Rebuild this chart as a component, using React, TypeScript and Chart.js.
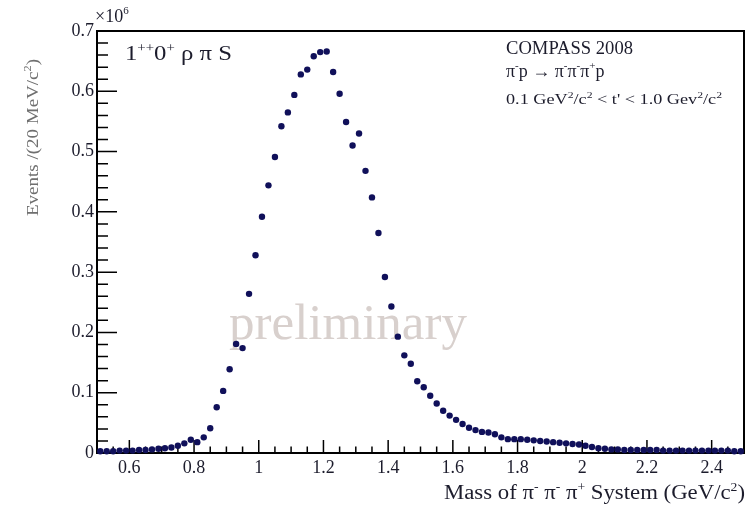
import { useEffect, useRef } from "react";
import { Chart, registerables } from "chart.js";

Chart.register(...registerables);

// Bin centres of the 20 MeV/c² mass bins (GeV/c²)
const massBins = [
  0.51, 0.53, 0.55, 0.57, 0.59, 0.61, 0.63, 0.65, 0.67, 0.69,
  0.71, 0.73, 0.75, 0.77, 0.79, 0.81, 0.83, 0.85, 0.87, 0.89,
  0.91, 0.93, 0.95, 0.97, 0.99, 1.01, 1.03, 1.05, 1.07, 1.09,
  1.11, 1.13, 1.15, 1.17, 1.19, 1.21, 1.23, 1.25, 1.27, 1.29,
  1.31, 1.33, 1.35, 1.37, 1.39, 1.41, 1.43, 1.45, 1.47, 1.49,
  1.51, 1.53, 1.55, 1.57, 1.59, 1.61, 1.63, 1.65, 1.67, 1.69,
  1.71, 1.73, 1.75, 1.77, 1.79, 1.81, 1.83, 1.85, 1.87, 1.89,
  1.91, 1.93, 1.95, 1.97, 1.99, 2.01, 2.03, 2.05, 2.07, 2.09,
  2.11, 2.13, 2.15, 2.17, 2.19, 2.21, 2.23, 2.25, 2.27, 2.29,
  2.31, 2.33, 2.35, 2.37, 2.39, 2.41, 2.43, 2.45, 2.47, 2.49,
];

// Events per bin (×10⁶)
const events = [
  0.003, 0.003, 0.003, 0.004, 0.004, 0.004, 0.005, 0.005, 0.006, 0.007,
  0.008, 0.009, 0.012, 0.016, 0.022, 0.018, 0.026, 0.041, 0.076, 0.103,
  0.139, 0.181, 0.174, 0.264, 0.328, 0.392, 0.444, 0.491, 0.542, 0.565,
  0.594, 0.628, 0.636, 0.658, 0.665, 0.666, 0.632, 0.596, 0.549, 0.510,
  0.530, 0.468, 0.424, 0.365, 0.292, 0.243, 0.193, 0.162, 0.148, 0.119,
  0.109, 0.095, 0.082, 0.070, 0.062, 0.055, 0.048, 0.042, 0.038, 0.035,
  0.034, 0.031, 0.026, 0.023, 0.023, 0.023, 0.022, 0.021, 0.020, 0.019,
  0.018, 0.017, 0.016, 0.015, 0.014, 0.012, 0.010, 0.008, 0.007, 0.006,
  0.006, 0.005, 0.005, 0.005, 0.005, 0.005, 0.005, 0.004, 0.004, 0.004,
  0.004, 0.004, 0.004, 0.004, 0.004, 0.004, 0.004, 0.004, 0.003, 0.003,
];

const xTickValues = [0.6, 0.8, 1, 1.2, 1.4, 1.6, 1.8, 2, 2.2, 2.4];
const yTickValues = [0, 0.1, 0.2, 0.3, 0.4, 0.5, 0.6, 0.7];
const X_MIN = 0.5;
const X_MAX = 2.5;
const Y_MIN = 0;
const Y_MAX = 0.7;
const X_MINOR_STEP = 0.05;
const Y_MINOR_STEP = 0.02;

const SERIF = "'Liberation Serif', 'DejaVu Serif', serif";

// segments: [text, isSuperscript]
type Seg = [string, boolean];

function drawRich(
  ctx: CanvasRenderingContext2D,
  segs: Seg[],
  x: number,
  y: number,
  size: number,
  width?: number,
  align: "left" | "right" = "left"
) {
  const supSize = Math.round(size * 0.62);
  const widths = segs.map(([t, sup]) => {
    ctx.font = `${sup ? supSize : size}px ${SERIF}`;
    return ctx.measureText(t).width;
  });
  const total = widths.reduce((s, w) => s + w, 0);
  const sx = width ? width / total : 1;
  const drawnW = total * sx;
  ctx.save();
  ctx.textAlign = "left";
  ctx.translate(align === "left" ? x : x - drawnW, y);
  ctx.scale(sx, 1);
  let cx = 0;
  segs.forEach(([t, sup], i) => {
    ctx.font = `${sup ? supSize : size}px ${SERIF}`;
    ctx.fillText(t, cx, sup ? -size * 0.42 : 0);
    cx += widths[i];
  });
  ctx.restore();
}

const decorPlugin = {
  id: "rootDecor",
  beforeDatasetsDraw(chart: any) {
    const { ctx, chartArea: a, scales } = chart;
    const xs = scales.x;
    const ys = scales.y;
    ctx.save();
    ctx.textBaseline = "alphabetic";
    // watermark
    ctx.font = `51px ${SERIF}`;
    ctx.fillStyle = "#d8d0cd";
    ctx.textAlign = "center";
    ctx.fillText("preliminary", 348, 339);

    // frame
    ctx.strokeStyle = "#000";
    ctx.lineWidth = 2;
    ctx.strokeRect(a.left, a.top, a.right - a.left, a.bottom - a.top);

    // ticks (inward)
    ctx.lineWidth = 1.5;
    ctx.beginPath();
    const nx = Math.round((X_MAX - X_MIN) / X_MINOR_STEP);
    for (let i = 1; i < nx; i++) {
      const v = X_MIN + i * X_MINOR_STEP;
      const px = xs.getPixelForValue(v);
      const major = xTickValues.some((t) => Math.abs(t - v) < 1e-6);
      const len = major ? 13 : 6.5;
      ctx.moveTo(px, a.bottom);
      ctx.lineTo(px, a.bottom - len);
    }
    const ny = Math.round((Y_MAX - Y_MIN) / Y_MINOR_STEP);
    for (let i = 1; i < ny; i++) {
      const v = Y_MIN + i * Y_MINOR_STEP;
      const py = ys.getPixelForValue(v);
      const major = yTickValues.some((t) => Math.abs(t - v) < 1e-6);
      const len = major ? 20 : 11;
      ctx.moveTo(a.left, py);
      ctx.lineTo(a.left + len, py);
    }
    ctx.moveTo(a.left, ys.getPixelForValue(Y_MAX));
    ctx.lineTo(a.left + 20, ys.getPixelForValue(Y_MAX));
    ctx.stroke();

    // texts
    ctx.fillStyle = "#1c1c2c";
    drawRich(ctx, [["×10", false], ["6", true]], a.left - 2, 22, 18);

    drawRich(ctx, [["1", false], ["++", true], ["0", false], ["+", true], [" ρ π S", false]], 125, 60, 20, 107);

    drawRich(ctx, [["COMPASS 2008", false]], 506, 54, 18, 127);
    drawRich(
      ctx,
      [["π", false], ["-", true], ["p → π", false], ["-", true], ["π", false], ["-", true], ["π", false], ["+", true], ["p", false]],
      506, 77, 18
    );
    drawRich(
      ctx,
      [["0.1 GeV", false], ["2", true], ["/c", false], ["2", true], [" < t' < 1.0 Gev", false], ["2", true], ["/c", false], ["2", true]],
      506, 104, 14, 216
    );

    // x title
    drawRich(
      ctx,
      [["Mass of π", false], ["-", true], [" π", false], ["-", true], [" π", false], ["+", true], [" System (GeV/c", false], ["2", true], [")", false]],
      745, 499, 20, 301, "right"
    );

    // y title
    ctx.save();
    ctx.translate(38, 216);
    ctx.rotate(-Math.PI / 2);
    ctx.fillStyle = "#6f6f6f";
    drawRich(ctx, [["Events /(20 MeV/c", false], ["2", true], [")", false]], 0, 0, 17, 157);
    ctx.restore();

    ctx.restore();
  },
};

export default function App() {
  const ref = useRef<HTMLCanvasElement | null>(null);
  useEffect(() => {
    document.body.style.margin = "0";
    const canvas = ref.current;
    if (!canvas) return;
    const chart = new Chart(canvas, {
      type: "scatter",
      data: {
        datasets: [
          {
            data: massBins.map((m, i) => ({ x: m, y: events[i] })),
            backgroundColor: "#10105a",
            borderColor: "#10105a",
            pointRadius: 3.2,
            pointBorderWidth: 0,
            clip: false,
          } as any,
        ],
      },
      options: {
        responsive: false,
        animation: false,
        devicePixelRatio: 1,
        layout: { padding: { top: 31, right: 4, left: 0, bottom: 0 } },
        plugins: {
          legend: { display: false },
          tooltip: { enabled: false },
        },
        scales: {
          x: {
            type: "linear",
            min: X_MIN,
            max: X_MAX,
            grid: { display: false, drawTicks: false },
            border: { display: false },
            afterBuildTicks: (s: any) => {
              s.ticks = xTickValues.map((v) => ({ value: v }));
            },
            afterFit: (s: any) => {
              s.height = 53;
            },
            ticks: {
              padding: 4,
              maxRotation: 0,
              autoSkip: false,
              color: "#1c1c2c",
              font: { family: SERIF, size: 18 },
              callback: (v: any) => String(+Number(v).toFixed(2)),
            },
          },
          y: {
            type: "linear",
            min: Y_MIN,
            max: Y_MAX,
            grid: { display: false, drawTicks: false },
            border: { display: false },
            afterBuildTicks: (s: any) => {
              s.ticks = yTickValues.map((v) => ({ value: v }));
            },
            afterFit: (s: any) => {
              s.width = 97;
            },
            ticks: {
              padding: 3,
              autoSkip: false,
              color: "#1c1c2c",
              font: { family: SERIF, size: 18 },
              callback: (v: any) => String(+Number(v).toFixed(2)),
            },
          },
        },
      },
      plugins: [decorPlugin],
    });
    return () => chart.destroy();
  }, []);
  return <canvas ref={ref} width={748} height={506} style={{ display: "block" }} />;
}
